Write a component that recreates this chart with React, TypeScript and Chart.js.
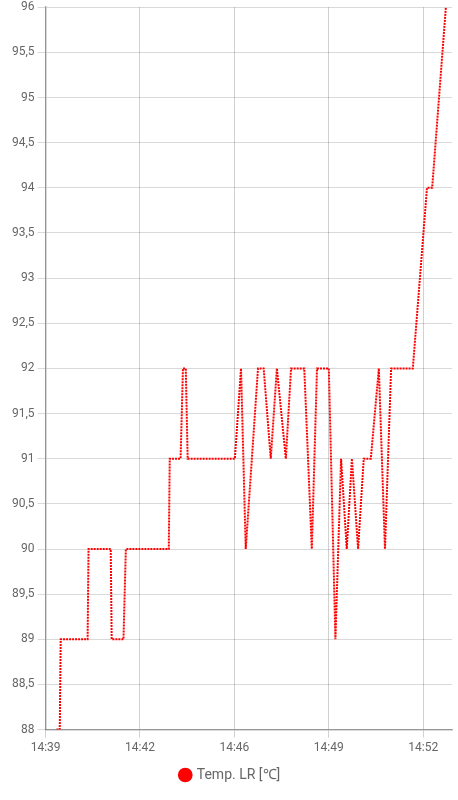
import React, { useEffect, useRef } from "react";
import { Chart, registerables } from "chart.js";

Chart.register(...registerables);

// Time axis window (HH:MM:SS)
const AXIS_START = "14:39:30";
const AXIS_END = "14:53:51";
const TICK_STEP_SECONDS = 200;

// Sample times
const times = [
  "14:39:53", "14:40:00", "14:40:02", "14:40:59", "14:41:01", "14:41:48", "14:41:50",
  "14:42:15", "14:42:20", "14:43:51", "14:43:53", "14:44:16", "14:44:21", "14:44:27",
  "14:44:31", "14:46:11", "14:46:24", "14:46:34", "14:47:00", "14:47:12", "14:47:27",
  "14:47:40", "14:47:59", "14:48:10", "14:48:38", "14:48:54", "14:49:05", "14:49:30",
  "14:49:44", "14:49:56", "14:50:08", "14:50:19", "14:50:32", "14:50:44", "14:50:59",
  "14:51:16", "14:51:29", "14:51:42", "14:52:28", "14:52:58", "14:53:09", "14:53:38",
];

// Temperature values
const temps = [
  88, 88, 89, 89, 90, 90, 89,
  89, 90, 90, 91, 91, 92, 92,
  91, 91, 92, 90, 92, 92, 91,
  92, 91, 92, 92, 90, 92, 92,
  89, 91, 90, 91, 90, 91, 91,
  92, 90, 92, 92, 94, 94, 96,
];

const SERIES_LABEL = "Temp. LR [℃]";
const Y_MIN = 88;
const Y_MAX = 96;
const Y_STEP = 0.5;

const toSec = (t: string) => {
  const [h, m, s] = t.split(":").map(Number);
  return h * 3600 + m * 60 + s;
};
const fmtHM = (sec: number) => {
  const h = Math.floor(sec / 3600);
  const m = Math.floor((sec % 3600) / 60);
  return `${h}:${String(m).padStart(2, "0")}`;
};

export default function App() {
  const ref = useRef<HTMLCanvasElement | null>(null);

  useEffect(() => {
    if (!ref.current) return;
    const base = toSec(AXIS_START);
    const points = times.map((t, i) => ({ x: toSec(t) - base, y: temps[i] }));
    Chart.defaults.font.family = "Roboto";
    Chart.defaults.color = "#666";
    const chart = new Chart(ref.current, {
      type: "line",
      data: {
        datasets: [
          {
            label: SERIES_LABEL,
            data: points,
            borderColor: "#ff0000",
            backgroundColor: "#ff0000",
            borderWidth: 2,
            borderDash: [2, 1],
            pointRadius: 0,
            pointStyle: "circle",
            tension: 0,
            fill: false,
          },
        ],
      },
      options: {
        animation: false,
        responsive: true,
        maintainAspectRatio: false,
        layout: { padding: { left: 9, right: 6, top: 0, bottom: 8 } },
        plugins: {
          legend: {
            position: "bottom",
            labels: {
              usePointStyle: true,
              boxWidth: 9,
              boxHeight: 9,
              font: { size: 14 },
              color: "#666",
            },
          },
          tooltip: { enabled: false },
        },
        scales: {
          x: {
            type: "linear",
            min: 0,
            max: toSec(AXIS_END) - base,
            grid: { color: "rgba(0,0,0,0.18)" },
            border: { color: "rgba(0,0,0,0.3)", width: 1.5 },
            ticks: {
              stepSize: TICK_STEP_SECONDS,
              includeBounds: false,
              maxRotation: 0,
              font: { size: 12 },
              callback: (v: any) => fmtHM(base + Number(v)),
            },
          },
          y: {
            min: Y_MIN,
            max: Y_MAX,
            grid: { color: "rgba(0,0,0,0.15)" },
            border: { color: "rgba(0,0,0,0.3)", width: 1.5 },
            ticks: {
              stepSize: Y_STEP,
              font: { size: 12 },
              callback: (v: any) => String(v).replace(".", ","),
            },
          },
        },
      },
    });
    return () => chart.destroy();
  }, []);

  return (
    <div style={{ position: "absolute", left: 0, top: -3, width: 458, height: 803 }}>
      <canvas ref={ref} />
    </div>
  );
}
